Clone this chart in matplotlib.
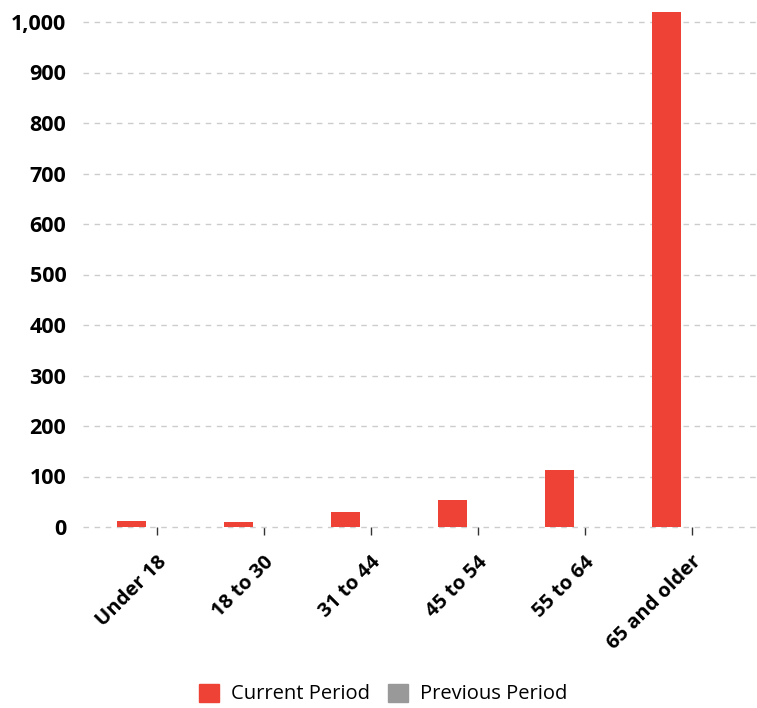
import matplotlib
matplotlib.use("Agg")
import matplotlib.pyplot as plt
import numpy as np
from matplotlib.patches import Patch

categories = ["Under 18", "18 to 30", "31 to 44", "45 to 54", "55 to 64", "65 and older"]
current = [12, 10, 30, 54, 113, 1020]
previous = [0, 0, 0, 0, 0, 0]
yticks = [0, 100, 200, 300, 400, 500, 600, 700, 800, 900, 1000]

RED = "#EF4236"
GRAY = "#999999"

W, H = 757, 708
fig = plt.figure(figsize=(W / 100, H / 100), dpi=100)
left, right, top, bottom = 83, 757, 10, 527
ax = fig.add_axes([left / W, 1 - bottom / H, (right - left) / W, (bottom - top) / H])

x = np.arange(len(categories))
bw = 0.27
ax.bar(x - 0.24, current, width=bw, color=RED, zorder=3)
ax.bar(x + 0.24, previous, width=bw, color=GRAY, zorder=3)

ax.set_xlim(-0.69, 5.61)
ax.set_ylim(0, (bottom - top) / 0.505)
ax.set_yticks(yticks)
ax.set_yticklabels([f"{v:,}" for v in yticks], fontsize=15.5, fontweight="bold", family="Open Sans")
ax.yaxis.grid(True, linestyle=(0, (4, 4)), color="#cccccc", linewidth=1, zorder=0)
for gl in ax.yaxis.get_gridlines():
    gl.set_clip_on(False)
ax.tick_params(axis="y", length=0, pad=12)
ax.set_xticks(x)
ax.set_xticklabels(categories, rotation=45, ha="right", rotation_mode="anchor",
                   fontsize=14.5, fontweight="bold", family="Open Sans")
ax.tick_params(axis="x", length=6, width=1, color="#333333", pad=12)
for s in ax.spines.values():
    s.set_visible(False)

handles = [Patch(color=RED, label="Current Period"), Patch(color=GRAY, label="Previous Period")]
fig.legend(handles=handles, loc="center", bbox_to_anchor=(383 / W, 1 - 694 / H), ncol=2,
           frameon=False, prop={"family": "Open Sans", "size": 14.5},
           handlelength=1.0, handleheight=1.0, handletextpad=0.6, columnspacing=0.9)

fig.savefig("out.png", dpi=100)
